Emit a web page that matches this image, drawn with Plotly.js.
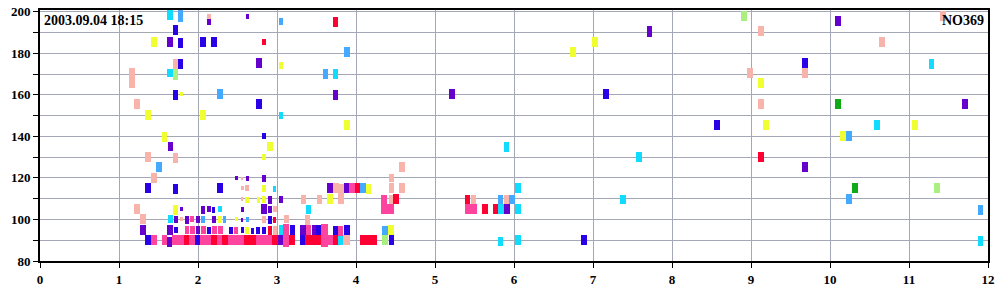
<!DOCTYPE html>
<html>
<head>
<meta charset="utf-8">
<script src="https://cdn.plot.ly/plotly-3.0.1.min.js"></script>
<style>html,body{margin:0;padding:0;background:#fff;}#chart{width:1000px;height:300px;}</style>
</head>
<body>
<div id="chart"></div>
<script>
// Each record: [xStart, xEnd, yLow, yHigh] in data units
const timeLabel = '2003.09.04 18:15';
const stationLabel = 'NO369';
const xTicks = [0,1,2,3,4,5,6,7,8,9,10,11,12];

const lightPink = [
  [2.11,2.16,196.4,199],[1.68,1.75,172.4,177.2],[1.13,1.2,163.2,172.9],[1.19,1.27,153.2,158],
  [1.33,1.405,127.7,132.5],[1.68,1.75,127.2,132],[1.405,1.48,117.5,122.4],
  [9.09,9.16,188.3,193.1],[11.39,11.47,195.5,200.3],[10.62,10.7,183,187.7],[8.95,9.03,168,172.9],
  [9.65,9.72,168,172.9],[9.09,9.16,153.2,158],
  [2.54,2.57,119,120.4],[2.54,2.58,114.2,116.1],[2.6,2.65,113.7,116.6],[3.71,3.78,112.7,117.5],
  [3.77,3.85,112.2,117],[4.42,4.48,112.7,117.5],[4.54,4.62,112.7,117.5],[4.42,4.48,118,121.9],
  [4.54,4.62,122.8,127.7],[1.19,1.27,102.6,107.4],[2.54,2.57,109,111],[3.3,3.37,107.4,111.8],
  [3.5,3.57,107.4,111.8],[3.77,3.85,107.4,112.2],[2.95,3.0,103.6,106.5],[4.42,4.48,107.4,111.8],
  [5.45,5.52,107.4,111.8],[5.87,5.94,107.4,111.8],
  [1.27,1.34,97.8,102.6],[1.77,1.81,99.3,101.2],[2.81,2.86,98.3,101.7],[3.09,3.15,98.3,102.1],
  [3.35,3.42,97.4,102.1],[2.95,3.0,92.5,97],[3.84,3.92,87.7,92.5]
];
const blue = [
  [1.68,1.75,189,193.6],[1.747,1.81,182.5,187.4],[2.025,2.1,183,187.7],[2.165,2.24,183,187.7],
  [1.747,1.81,172.4,177.2],[1.68,1.75,157.5,162.3],[2.73,2.81,153.2,158],[2.81,2.86,138.7,141.6],
  [7.13,7.2,158,162.8],[9.65,9.72,172.9,177.7],[8.53,8.61,143,147.9],[6.85,6.92,87.7,92.5],
  [1.33,1.405,112.7,117.5],[1.68,1.75,112.2,117],[2.24,2.32,112.7,117.5],[2.18,2.22,103,106],
  [2.88,2.94,97.8,101.7],
  [1.7,1.75,93.5,96.4],[2.11,2.16,93,96.4],[2.39,2.44,93,96.4],[2.54,2.58,93.5,96.4],
  [2.67,2.71,93,96],[2.73,2.78,93,96.4],[2.81,2.86,93,96.4],[3.16,3.23,92.5,97.3],
  [3.49,3.56,92.5,97.3],[3.71,3.77,92.5,97],[3.85,3.92,92.5,97.3],
  [1.33,1.405,87.7,92.5],[1.96,2.03,87.7,92.5],[3.29,3.35,87.7,92.5],[4.42,4.48,87.7,92.5]
];
const purple = [
  [2.11,2.16,193.8,196.4],[2.61,2.65,196.4,198.8],[1.61,1.68,183,187.7],[2.73,2.81,173,177.6],
  [1.62,1.68,132.8,137.3],[3.71,3.77,157.5,162.3],[5.18,5.25,158,162.8],[7.68,7.75,188,193],
  [10.06,10.14,193,198],[11.67,11.75,153.2,158],[9.65,9.72,122.8,127.7],
  [2.47,2.51,119,121],[2.61,2.65,118.5,121],[2.81,2.86,118,121.4],[3.63,3.71,112.7,117.5],
  [3.85,3.91,112.7,117.5],[1.77,1.81,104,106],[2.88,2.94,107.4,111.3],[3.03,3.08,108,111.3],
  [2.8,2.87,102.6,107.4],[2.88,2.94,103,106.5],[2.04,2.09,102.6,106.5],[2.11,2.16,103.6,106.5],
  [2.54,2.58,103.6,106],[5.87,5.95,102.6,107.4],
  [1.69,1.75,98.3,101.6],[1.84,1.89,97.8,101.7],[1.97,2.03,98.3,101.7],[2.18,2.23,98.3,101.7],
  [2.54,2.57,98.8,100.7],
  [1.27,1.34,92.5,97.3],[1.61,1.68,92.5,97.3],[1.97,2.03,93,96.9],[3.29,3.37,92.5,97.3],
  [3.44,3.49,92.5,97.3],[1.61,1.67,86.7,91.5],[3.01,3.08,87.7,92.5]
];
const cyan = [
  [1.61,1.68,196,201],[1.61,1.68,168.6,172.4],[3.03,3.08,148.3,151.7],[3.71,3.77,167.6,172.4],
  [5.87,5.94,132.5,137.3],[7.54,7.62,127.7,132.5],[11.25,11.32,172.4,177.2],[10.56,10.63,143,147.9],
  [11.87,11.94,87.2,92],[5.8,5.86,87,91.5],[6.01,6.09,87.7,92.5],
  [2.95,2.99,113.2,116.1],[6.01,6.09,112.7,117.5],[3.37,3.43,102.6,107],[2.25,2.3,103.6,106.5],
  [5.8,5.87,102.6,107.4],[6.01,6.09,102.6,107.4],[7.34,7.42,107.4,112],
  [1.62,1.68,98.3,102.1],[3.03,3.08,92.5,97.3],[3.77,3.84,87.7,92.5]
];
const lightBlue = [
  [1.747,1.81,195.2,201],[3.02,3.08,193.6,197],[3.58,3.65,167.7,172.4],[2.24,2.32,158,162.8],
  [1.47,1.545,122.8,127.7],[3.85,3.92,178,182.8],[10.2,10.28,137.8,142.6],[10.2,10.28,107.4,112.2],
  [11.87,11.94,102.1,107],[4.05,4.13,112.7,117.5],[5.8,5.86,107.4,111.8],[5.94,6.01,107.4,112],
  [2.04,2.09,98.3,101.7],[2.32,2.36,98.3,101.7],[2.61,2.65,98.8,101.2],[4.33,4.4,92.5,96.8]
];
const yellow = [
  [1.405,1.477,183,187.7],[3.03,3.08,172.5,176],[1.77,1.81,159.4,161.4],[1.33,1.405,147.9,152.7],
  [2.025,2.1,147.9,152.7],[1.545,1.61,137.3,142.1],[2.87,2.95,132.8,137.5],[2.81,2.86,128.6,131.5],
  [3.85,3.92,143,147.9],[6.71,6.78,178,182.8],[6.99,7.06,183,187.7],[9.09,9.16,163.3,168],
  [9.15,9.23,143,147.9],[11.04,11.11,143,147.9],[10.13,10.2,137.8,142.6],
  [2.81,2.86,113.2,116.6],[4.13,4.19,112.2,117],[1.68,1.75,102.1,106.9],[2.6,2.64,108,110.8],
  [2.75,2.78,108,110.8],[2.81,2.86,108,111.3],[3.63,3.71,107.4,112.2],
  [2.25,2.3,98.3,101.7],[2.47,2.51,99.3,101.2],[2.6,2.65,93,96.4],[4.4,4.48,92.5,97.3]
];
const red = [
  [2.81,2.86,184,186.7],[3.71,3.77,192.6,197.5],[9.09,9.16,127.7,132.5],[3.99,4.05,112.7,117.5],
  [4.47,4.54,107.4,112.2],[5.38,5.44,107.4,111.8],[5.59,5.67,102.6,107.4],[5.73,5.8,102.6,107.4],
  [2.95,2.99,98.3,101.2],[2.88,2.94,92.5,97],
  [1.82,1.89,87.7,92.5],[2.16,2.24,87.7,92.5],[2.3,2.38,87.7,92.5],[2.58,2.73,87.7,92.5],
  [2.94,3.01,87.7,92.5],[3.15,3.23,87.7,92.5],[3.35,3.56,87.7,92.5],[3.71,3.77,87.7,92.5],
  [4.05,4.27,87.7,92.5]
];
const hotPink = [
  [3.91,3.99,112.7,117.5],[4.32,4.39,102.6,111.8],[4.39,4.48,102.6,107.4],[5.38,5.53,102.6,107.4],
  [1.9,1.95,98.8,101.7],
  [1.84,1.89,93,96.9],[1.9,1.96,93,96.9],[2.04,2.1,93,96.9],[2.18,2.24,93,96.9],[2.25,2.32,93,96.9],
  [2.46,2.51,93,96.4],[3.08,3.15,86.5,97.8],[3.37,3.43,92.5,97.3],[3.56,3.65,86.8,97.8],
  [3.77,3.84,92,97],
  [1.405,1.48,87.7,92.5],[1.545,1.61,87.7,92.5],[1.67,1.82,87.7,92.5],[1.89,1.96,87.7,92.5],
  [2.03,2.16,87.7,92.5],[2.24,2.3,87.7,92.5],[2.38,2.58,87.7,92.5],[2.73,2.94,87.7,92.5],
  [3.65,3.71,87.7,92.5]
];
const lightGreen = [
  [1.68,1.75,167.3,172.4],[8.87,8.95,195.5,200.3],[11.32,11.39,112.7,117.5],[4.33,4.4,87.7,92.5]
];
const green = [
  [10.06,10.14,153.2,158],[10.28,10.35,112.7,117.5]
];

const series = [
  {name:'lightPink', rows:lightPink, color:'#f8b4aa'},
  {name:'lightGreen', rows:lightGreen, color:'#aaf080'},
  {name:'green', rows:green, color:'#10aa18'},
  {name:'yellow', rows:yellow, color:'#f0ff30'},
  {name:'lightBlue', rows:lightBlue, color:'#44aaff'},
  {name:'cyan', rows:cyan, color:'#10dcff'},
  {name:'hotPink', rows:hotPink, color:'#ff44a0'},
  {name:'red', rows:red, color:'#ff0033'},
  {name:'purple', rows:purple, color:'#6600cc'},
  {name:'blue', rows:blue, color:'#2a00e6'}
];

const traces = series.map(s => ({
  type:'bar',
  name:s.name,
  x:s.rows.map(r => (r[0]+r[1])/2),
  width:s.rows.map(r => r[1]-r[0]),
  base:s.rows.map(r => r[2]),
  y:s.rows.map(r => r[3]-r[2]),
  marker:{color:s.color, line:{width:0}},
  hoverinfo:'skip'
}));

const tickFont = {family:'Liberation Serif, Times New Roman, serif', size:13, color:'#000', weight:'bold'};
const gridColor = '#a4a7b6';

const layout = {
  width:1000, height:300,
  margin:{l:40, r:12, t:10, b:39, pad:0},
  paper_bgcolor:'#fff', plot_bgcolor:'#fff',
  showlegend:false,
  barmode:'overlay',
  bargap:0,
  xaxis:{
    range:[0,12], tickvals:xTicks, ticktext:xTicks.map(String),
    showgrid:true, gridcolor:gridColor, gridwidth:1,
    showline:true, linecolor:'#000', linewidth:2, mirror:true,
    ticks:'outside', ticklen:5, tickwidth:1, tickcolor:'#000',
    tickfont:tickFont, zeroline:false, fixedrange:true
  },
  yaxis:{
    range:[80,200.8], tick0:80, dtick:20,
    showgrid:true, gridcolor:gridColor, gridwidth:1,
    showline:true, linecolor:'#000', linewidth:2, mirror:true,
    ticks:'outside', ticklen:5, tickwidth:1, tickcolor:'#000',
    tickfont:tickFont, zeroline:false, fixedrange:true,
    minor:{dtick:10, showgrid:true, gridcolor:gridColor, gridwidth:1, ticks:'outside', ticklen:5, tickcolor:'#000'}
  },
  annotations:[
    {xref:'paper', yref:'paper', x:0, y:1, xanchor:'left', yanchor:'top', xshift:2, yshift:-1,
     text:timeLabel, showarrow:false, font:{family:'Liberation Serif, Times New Roman, serif', size:14, color:'#000', weight:'bold'}},
    {xref:'paper', yref:'paper', x:1, y:1, xanchor:'right', yanchor:'top', xshift:-2, yshift:-1,
     text:stationLabel, showarrow:false, font:{family:'Liberation Serif, Times New Roman, serif', size:14, color:'#000', weight:'bold'}}
  ]
};

Plotly.newPlot('chart', traces, layout, {staticPlot:true, displayModeBar:false});
</script>
</body>
</html>
